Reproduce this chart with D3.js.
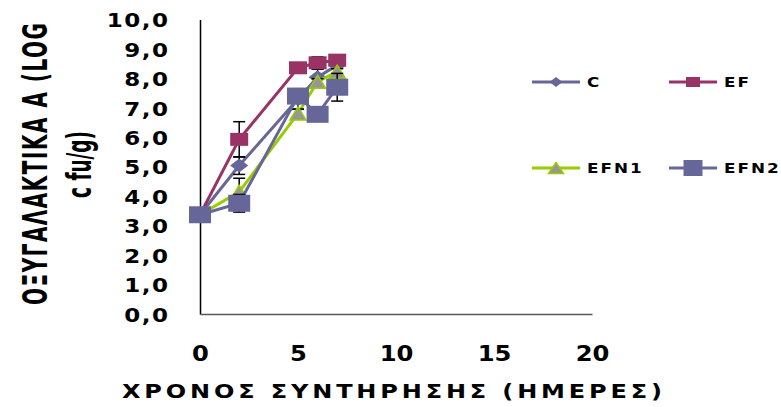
<!DOCTYPE html>
<html>
<head>
<meta charset="utf-8">
<script src="https://cdn.jsdelivr.net/npm/d3@7"></script>
<style>
  body { margin: 0; background: #fff; }
  svg { display: block; font-family: "DejaVu Sans", sans-serif; font-weight: bold; }
</style>
</head>
<body>
<svg id="chart" width="781" height="407"></svg>
<script>
// storage days and log counts
var days = [0, 2, 5, 6, 7];
var seriesNames = ['C', 'EF', 'EFN1', 'EFN2'];
var valsC    = [3.37, 5.04, 7.30, 8.04, 8.45];
var valsEF   = [3.37, 5.93, 8.36, 8.53, 8.62];
var valsEFN1 = [3.37, 4.15, 6.81, 7.89, 8.23];
var valsEFN2 = [3.37, 3.76, 7.40, 6.78, 7.70];
var errC    = [0, 0.30, 0.35, 0.27, 0.10];
var errEF   = [0, 0.60, 0.10, 0.20, 0.10];
var errEFN1 = [0, 0.46, 0.15, 0.10, 0.10];
var errEFN2 = [0, 0.30, 0.10, 0.10, 0.47];
var yTicks = [0, 1, 2, 3, 4, 5, 6, 7, 8, 9, 10];
var xTicks = [0, 5, 10, 15, 20];
var yTitle1 = 'ΟΞΥΓΑΛΑΚΤΙΚΑ Α (LOG';
var yTitle2 = 'c fu/g)';
var xTitle = 'ΧΡΟΝΟΣ ΣΥΝΤΗΡΗΣΗΣ (ΗΜΕΡΕΣ)';

var svg = d3.select('#chart');
var x = d3.scaleLinear().domain([0, 20]).range([200, 592]);
var y = d3.scaleLinear().domain([0, 10]).range([314, 19.5]);

// widen text by adding space between letters
function spread(sel, gap) {
  sel.each(function() {
    var n = this.textContent.length;
    if (n > 1 && gap > 0) {
      var w = this.getComputedTextLength();
      d3.select(this).attr('textLength', w + gap * (n - 1)).attr('lengthAdjust', 'spacing');
    }
  });
}

// marker shapes, w x h boxes centred on 0,0
function shapePath(kind, w, h) {
  var a = w / 2, b = h / 2;
  if (kind == 'diamond') return 'M0,' + (-b) + 'L' + a + ',0L0,' + b + 'L' + (-a) + ',0Z';
  if (kind == 'triangle') return 'M0,' + (-b) + 'L' + a + ',' + b + 'L' + (-a) + ',' + b + 'Z';
  return 'M' + (-a) + ',' + (-b) + 'h' + w + 'v' + h + 'h' + (-w) + 'Z';
}

var series = [
  {name: seriesNames[0], vals: valsC, err: errC, line: '#666699', fill: '#666699', stroke: 'none', shape: 'diamond', w: 18, h: 14, lw: 13, lh: 10},
  {name: seriesNames[1], vals: valsEF, err: errEF, line: '#993366', fill: '#993366', stroke: 'none', shape: 'square', w: 18, h: 13, lw: 14, lh: 10},
  {name: seriesNames[2], vals: valsEFN1, err: errEFN1, line: '#99cc00', fill: '#969696', stroke: '#99cc00', shape: 'triangle', w: 16, h: 13, lw: 15, lh: 11},
  {name: seriesNames[3], vals: valsEFN2, err: errEFN2, line: '#666699', fill: '#666699', stroke: 'none', shape: 'square', w: 22, h: 17, lw: 19, lh: 16}
];

// axes
var yAxis = svg.append('g').attr('transform', 'translate(200,0)')
  .call(d3.axisLeft(y).tickValues(yTicks).tickSize(0).tickSizeOuter(0)
    .tickFormat(function(d) { return d.toFixed(1).replace('.', ','); }));
yAxis.select('.domain').attr('stroke', '#000').attr('stroke-width', 1.5);
yAxis.selectAll('text').attr('x', -32 / 1.15).attr('dy', '0.36em').attr('transform', 'scale(1.15,1)')
  .style('font-size', '20px').style('font-family', 'DejaVu Sans').style('font-weight', 'bold').attr('fill', '#000');
spread(yAxis.selectAll('text'), 1.3);

var xAxis = svg.append('g').attr('transform', 'translate(0,314)')
  .call(d3.axisBottom(x).tickValues(xTicks).tickSize(0).tickSizeOuter(0));
xAxis.select('.domain').attr('stroke', '#595959').attr('stroke-width', 1.5);
xAxis.selectAll('text').attr('y', 47).attr('dy', 0).attr('transform', 'scale(1.1,1)')
  .style('font-size', '22px').style('font-family', 'DejaVu Sans').style('font-weight', 'bold').attr('fill', '#000');

// titles
svg.append('text').attr('transform', 'translate(392,398) scale(1.2,1)')
  .attr('x', -225).style('font-size', '20px').attr('textLength', 450).attr('lengthAdjust', 'spacing')
  .text(xTitle);
svg.append('text').attr('transform', 'translate(47,305) scale(1.7,1) rotate(-90)')
  .attr('x', 0).style('font-size', '20px')
  .attr('textLength', 282).attr('lengthAdjust', 'spacing').text(yTitle1);
svg.append('text').attr('transform', 'translate(91,198) scale(1.7,1) rotate(-90)')
  .attr('x', 0).style('font-size', '20px')
  .attr('textLength', 67).attr('lengthAdjust', 'spacingAndGlyphs').text(yTitle2);

// series
var line = d3.line().x(function(d) { return x(d[0]); }).y(function(d) { return y(d[1]); });

series.forEach(function(s) {
  var pts = days.map(function(d, i) { return [d, s.vals[i], s.err[i]]; });
  var g = svg.append('g');
  g.append('path').datum(pts).attr('d', line)
    .attr('fill', 'none').attr('stroke', s.line).attr('stroke-width', 3);

  var eb = g.selectAll('.eb').data(pts.filter(function(p) { return p[2] > 0; })).enter().append('g');
  eb.append('line')
    .attr('x1', function(p) { return x(p[0]); }).attr('x2', function(p) { return x(p[0]); })
    .attr('y1', function(p) { return y(p[1] + p[2]); }).attr('y2', function(p) { return y(p[1] - p[2]); });
  eb.append('line')
    .attr('x1', function(p) { return x(p[0]) - 6; }).attr('x2', function(p) { return x(p[0]) + 6; })
    .attr('y1', function(p) { return y(p[1] + p[2]); }).attr('y2', function(p) { return y(p[1] + p[2]); });
  eb.append('line')
    .attr('x1', function(p) { return x(p[0]) - 6; }).attr('x2', function(p) { return x(p[0]) + 6; })
    .attr('y1', function(p) { return y(p[1] - p[2]); }).attr('y2', function(p) { return y(p[1] - p[2]); });
  eb.selectAll('line').attr('stroke', '#000').attr('stroke-width', 1.5);

  g.selectAll('.mk').data(pts).enter().append('path')
    .attr('d', shapePath(s.shape, s.w, s.h))
    .attr('transform', function(p) { return 'translate(' + x(p[0]) + ',' + y(p[1]) + ')'; })
    .attr('fill', s.fill).attr('stroke', s.stroke).attr('stroke-width', 1.5);
});

// legend, two columns by two rows
var legX = [532, 669];
var legY = [82, 168];
series.forEach(function(s, i) {
  var lx = legX[i % 2], ly = legY[Math.floor(i / 2)];
  var g = svg.append('g').attr('transform', 'translate(' + lx + ',' + ly + ')');
  g.append('line').attr('x1', 0).attr('x2', 48).attr('y1', 0).attr('y2', 0)
    .attr('stroke', s.line).attr('stroke-width', 3);
  g.append('path').attr('d', shapePath(s.shape, s.lw, s.lh)).attr('transform', 'translate(24,0)')
    .attr('fill', s.fill).attr('stroke', s.stroke).attr('stroke-width', 1.5);
  var t = g.append('text').attr('transform', 'translate(55,5) scale(1.2,1)')
    .style('font-size', '14px').text(s.name);
  spread(t, 1.7);
});
</script>
</body>
</html>
